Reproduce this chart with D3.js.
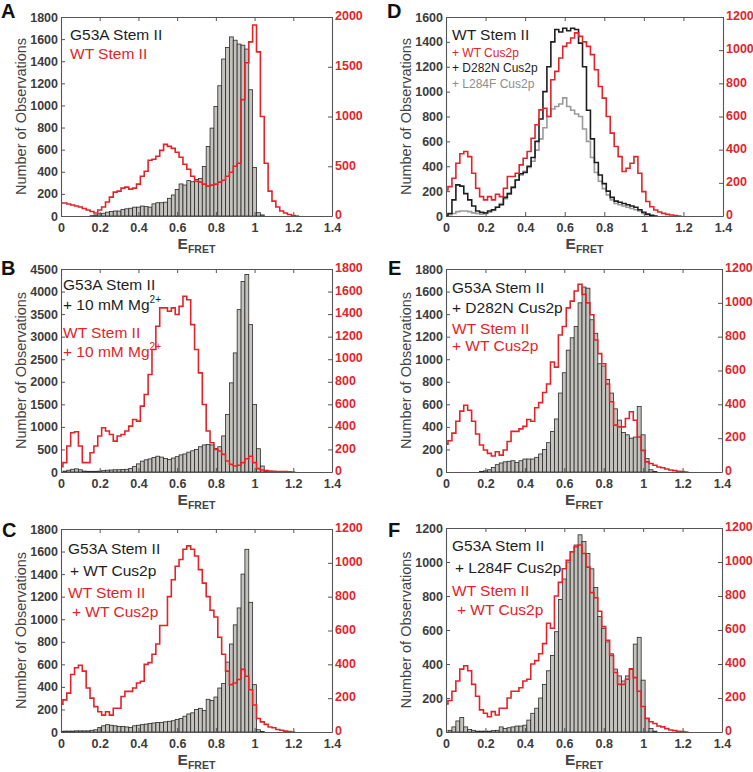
<!DOCTYPE html>
<html><head><meta charset="utf-8">
<script src="https://cdn.jsdelivr.net/npm/d3@7"></script>
<style>
body{margin:0;background:#fff}
text{font-family:"Liberation Sans",Arial,sans-serif}
</style>
</head><body>
<svg id="chart" width="753" height="772"></svg>
<script>
// ---------- data (bins of 0.02 in E_FRET, bin k centred at k*0.02) ----------
const BIN = 0.02;
const xTickValues = [0, 0.2, 0.4, 0.6, 0.8, 1, 1.2, 1.4];

// Panel A
const aG53A = [0,0,0,0,0,0,0,0,3,10, 20,25,35,40,45,45,60,65,70,80, 80,90,85,80,110,120,120,125,160,190,
  240,290,280,320,310,330,340,447,628,795, 990,1178,1420,1525,1620,1590,1555,1545,1510,1142, 438,30,10];
const aWT = [130,130,120,110,100,90,75,60,45,30, 60,90,140,190,240,250,280,290,270,280,
  320,400,450,560,570,600,660,720,700,680, 640,590,520,470,400,350,340,320,300,310,
  320,340,360,400,440,500,530,1170,1540,1750, 1920,1650,1000,530,250,150,90,50,30,15, 5,0];

// Panel B
const bG53A = [0,20,40,60,70,50,20,15,15,15, 20,30,40,45,50,50,55,60,80,120,
  180,240,270,290,320,350,330,300,280,310, 340,380,400,440,470,500,560,600,610,600,
  520,560,800,1276,1976,2640,3600,4225,4380,3267, 1497,516,133,20];
const bWT = [47,83,230,348,357,230,83,83,171,230, 319,392,363,333,274,319,333,363,407,466,
  451,584,687,864,1086,1292,1455,1455,1425,1455, 1396,1469,1558,1528,1307,1086,879,599,363,260,
  201,186,156,97,68,53,60,83,118,140, 83,30,18,12,8,6,5,4,3,2, 0];

// Panel C
const cG53A = [5,8,8,8,10,10,10,10,15,20, 40,55,65,60,55,50,50,45,40,55,
  60,65,70,75,80,85,85,90,95,100, 110,120,140,160,170,200,210,190,290,280,
  310,390,430,620,780,950,1100,1400,1620,1150, 420,20,5];
const cWT = [164,190,230,340,380,395,360,260,200,150, 120,100,120,100,140,140,210,240,240,260,
  290,300,400,410,460,520,630,630,800,900, 980,1020,1080,1100,1080,1040,960,880,800,720,
  680,560,460,360,280,290,310,370,330,250, 160,80,60,45,30,25,15,10,5,2, 0];

// Panel D (three step lines)
const dWT = [157,177,228,318,375,389,358,258,167,117, 97,117,97,131,117,167,238,238,258,308,
  348,389,469,550,640,650,600,822,872,953, 1023,1043,1073,1104,1083,1050,1023,973,882,781,
  711,600,500,419,358,268,288,318,358,258, 147,87,56,36,24,16,10,6,3,0];
const dD282N = [0,20,130,250,240,180,130,80,40,30, 25,40,50,70,90,150,180,230,290,340,
  350,400,470,600,780,1000,1200,1400,1500,1480, 1510,1490,1510,1500,1390,1200,850,620,430,330,
  260,200,150,120,110,100,90,80,70,50, 30,15,5,0];
const dL284F = [0,10,20,35,40,40,35,25,20,15, 20,30,45,70,100,140,180,230,290,330,
  360,390,440,530,620,710,800,860,880,900, 950,880,850,820,800,700,600,470,350,280,
  220,170,130,100,90,80,70,60,50,40, 20,10,0];

// Panel E
const eG53A = [0,0,0,0,0,0,0,0,0,5, 10,20,40,65,80,90,95,100,85,100,
  115,115,115,130,160,200,260,360,470,700, 880,1080,1190,1290,1500,1640,1630,1350,1230,960,
  940,820,700,560,460,350,330,300,310,580, 330,120,20,5];
const eWT = [165,185,230,300,360,395,365,300,225,160, 130,110,95,120,100,130,180,240,240,255,
  270,310,300,380,410,470,520,650,620,810, 860,970,1010,1070,1110,1050,1000,930,780,700,
  640,520,415,277,267,267,316,356,306,207, 128,60,50,40,30,25,18,12,8,4, 2,0];

// Panel F
const fG53A = [0,10,30,65,85,30,15,10,5,5, 5,5,8,10,30,20,25,30,35,35,
  40,70,110,140,200,280,360,450,590,780, 900,1000,1060,1100,1160,1120,1050,960,850,680,
  610,530,460,370,330,300,330,374,517,557, 305,80,20,5];
const fWT = [165,185,240,300,370,390,360,280,210,130, 110,90,120,100,140,140,200,240,240,260,
  300,310,400,420,460,520,640,610,800,880, 960,1010,1060,1090,1100,1050,970,820,790,710,
  620,540,450,350,280,280,310,370,320,240, 150,80,60,50,35,30,20,12,8,4, 2,0];

// Legend texts
const legA = ["G53A Stem II", "WT Stem II"];
const legB = ["G53A Stem II", "+ 10 mM Mg", "WT Stem II", "+ 10 mM Mg"];
const legC = ["G53A Stem II", "+ WT Cus2p", "WT Stem II", "+ WT Cus2p"];
const legD = ["WT Stem II", "+ WT Cus2p", "+ D282N Cus2p", "+ L284F Cus2p"];
const legE = ["G53A Stem II", "+ D282N Cus2p", "WT Stem II", "+ WT Cus2p"];
const legF = ["G53A Stem II", "+ L284F Cus2p", "WT Stem II", "+ WT Cus2p"];

// ---------- styling / layout ----------
const RED = "#e2242a", BLACK = "#1e1e1e", GREY = "#8d8d8d", AXIS = "#555";
const panels = [
  {id:"A", box:[61,332,17,216], lMax:1800, lStep:200, rMax:2000, rStep:500, bars:aG53A, red:aWT,
   legend:[{t:legA[0],c:BLACK,x:70,y:40},{t:legA[1],c:RED,x:70,y:59}]},
  {id:"B", box:[61,332,269,472], lMax:4500, lStep:500, rMax:1800, rStep:200, bars:bG53A, red:bWT,
   legend:[{t:legB[0],c:BLACK,x:63,y:290},{t:legB[1],c:BLACK,x:63,y:310,sup:"2+"},
           {t:legB[2],c:RED,x:63,y:338},{t:legB[3],c:RED,x:63,y:357,sup:"2+"}]},
  {id:"C", box:[61,332,529,732], lMax:1800, lStep:200, rMax:1200, rStep:200, bars:cG53A, red:cWT,
   legend:[{t:legC[0],c:BLACK,x:68,y:554},{t:legC[1],c:BLACK,x:70,y:576},
           {t:legC[2],c:RED,x:68,y:598},{t:legC[3],c:RED,x:72,y:617}]},
  {id:"D", box:[446,723,17,216], lMax:1600, lStep:200, rMax:1200, rStep:200, red:dWT,
   leftLines:[{v:dL284F,c:"#9a9a9a"},{v:dD282N,c:BLACK}],
   legend:[{t:legD[0],c:BLACK,x:452,y:40},{t:legD[1],c:RED,x:452,y:57,s:12},
           {t:legD[2],c:BLACK,x:452,y:72,s:12},{t:legD[3],c:GREY,x:452,y:88,s:12}]},
  {id:"E", box:[446,722,269,472], lMax:1800, lStep:200, rMax:1200, rStep:200, bars:eG53A, red:eWT,
   legend:[{t:legE[0],c:BLACK,x:452,y:293},{t:legE[1],c:BLACK,x:452,y:313},
           {t:legE[2],c:RED,x:452,y:334},{t:legE[3],c:RED,x:452,y:351}]},
  {id:"F", box:[446,722,528,732], lMax:1200, lStep:200, rMax:1200, rStep:200, bars:fG53A, red:fWT,
   legend:[{t:legF[0],c:BLACK,x:452,y:551},{t:legF[1],c:BLACK,x:455,y:573},
           {t:legF[2],c:RED,x:452,y:596},{t:legF[3],c:RED,x:457,y:615}]}
];
const letterPos = {A:[1,18],B:[1,275],C:[2,537],D:[387,18],E:[388,275],F:[388,537]};

const svg = d3.select("#chart");

panels.forEach(p => {
  const [x0,x1,y0,y1] = p.box;
  const x = d3.scaleLinear().domain([0,1.4]).range([x0,x1]);
  const yL = d3.scaleLinear().domain([0,p.lMax]).range([y1,y0]);
  const yR = d3.scaleLinear().domain([0,p.rMax]).range([y1,y0]);
  const g = svg.append("g");

  const clipId = "clip"+p.id;
  svg.append("clipPath").attr("id",clipId).append("rect")
    .attr("x",x0).attr("y",y0-2).attr("width",x1-x0).attr("height",y1-y0+2);
  const plot = g.append("g").attr("clip-path",`url(#${clipId})`);

  // histogram bars (left axis)
  if (p.bars) {
    plot.selectAll("rect.bar").data(p.bars.map((v,k)=>({k,v})).filter(d=>d.v>0))
      .enter().append("rect").attr("class","bar")
      .attr("x", d => x(d.k*BIN - BIN/2))
      .attr("width", d => x(d.k*BIN + BIN/2) - x(d.k*BIN - BIN/2))
      .attr("y", d => yL(d.v))
      .attr("height", d => yL(0) - yL(d.v))
      .attr("fill","#c4c2bc").attr("stroke","#2a2a2a").attr("stroke-width",0.8);
  }

  const stepPts = vals => {
    const pts = vals.map((v,k)=>[k*BIN - BIN/2, v]);
    pts.push([vals.length*BIN - BIN/2, vals[vals.length-1]]);
    return pts;
  };
  // step lines on left axis (panel D)
  if (p.leftLines) {
    p.leftLines.forEach(L => {
      plot.append("path").datum(stepPts(L.v))
        .attr("d", d3.line().x(d=>x(d[0])).y(d=>yL(d[1])).curve(d3.curveStepAfter))
        .attr("fill","none").attr("stroke",L.c).attr("stroke-width",1.6);
    });
  }
  // red step line (right axis)
  plot.append("path").datum(stepPts(p.red))
    .attr("d", d3.line().x(d=>x(d[0])).y(d=>yR(d[1])).curve(d3.curveStepAfter))
    .attr("fill","none").attr("stroke",RED).attr("stroke-width",1.6);

  // axes
  const styleAxis = (sel, col) => {
    sel.select(".domain").attr("stroke",AXIS).attr("stroke-width",1.1);
    sel.selectAll(".tick line").attr("stroke",AXIS);
    sel.selectAll(".tick text").attr("fill",col).attr("font-size","12.5px")
      .attr("font-weight","bold").attr("font-family",'"Liberation Sans",Arial,sans-serif');
  };
  const fmt = d3.format("~g");
  g.append("g").attr("transform",`translate(0,${y1})`)
    .call(d3.axisBottom(x).tickValues(xTickValues).tickFormat(fmt).tickSizeInner(-4).tickSizeOuter(0).tickPadding(7))
    .call(s=>styleAxis(s,"#3c3c3c"));
  g.append("g").attr("transform",`translate(0,${y0})`)
    .call(d3.axisTop(x).tickValues(xTickValues).tickFormat("").tickSizeInner(-4).tickSizeOuter(0))
    .call(s=>styleAxis(s,"#3c3c3c"));
  g.append("g").attr("transform",`translate(${x0},0)`)
    .call(d3.axisLeft(yL).tickValues(d3.range(0,p.lMax+1,p.lStep)).tickFormat(fmt).tickSizeInner(-4).tickSizeOuter(0).tickPadding(3))
    .call(s=>styleAxis(s,"#3c3c3c"));
  g.append("g").attr("transform",`translate(${x1},0)`)
    .call(d3.axisRight(yR).tickValues(d3.range(0,p.rMax+1,p.rStep)).tickFormat(fmt).tickSizeInner(-4).tickSizeOuter(0).tickPadding(3))
    .call(s=>styleAxis(s,RED))
    .call(s=>s.selectAll(".tick text").attr("dy","0.22em"));

  // y label
  g.append("text")
    .attr("transform",`translate(${x0-35},${(y0+y1)/2}) rotate(-90)`)
    .attr("text-anchor","middle").attr("font-size","14.5px").attr("fill","#444")
    .text("Number of Observations");

  // x label E_FRET
  const xl = g.append("text").attr("x",(x0+x1)/2).attr("y",y1+33)
    .attr("text-anchor","middle").attr("font-weight","bold").attr("fill","#444");
  xl.append("tspan").attr("font-size","15.5px").text("E");
  xl.append("tspan").attr("font-size","10.5px").attr("dy",4).text("FRET");

  // panel letter
  g.append("text").attr("x",letterPos[p.id][0]).attr("y",letterPos[p.id][1])
    .attr("font-size","20px").attr("font-weight","bold").attr("fill","#111").text(p.id);

  // legend
  p.legend.forEach(L => {
    const t = g.append("text").attr("x",L.x).attr("y",L.y)
      .attr("font-size",(L.s||15.5)+"px").attr("fill",L.c);
    t.append("tspan").text(L.t);
    if (L.sup) t.append("tspan").attr("font-size","10px").attr("dy",-7).text(L.sup);
  });
});
</script>
</body></html>
